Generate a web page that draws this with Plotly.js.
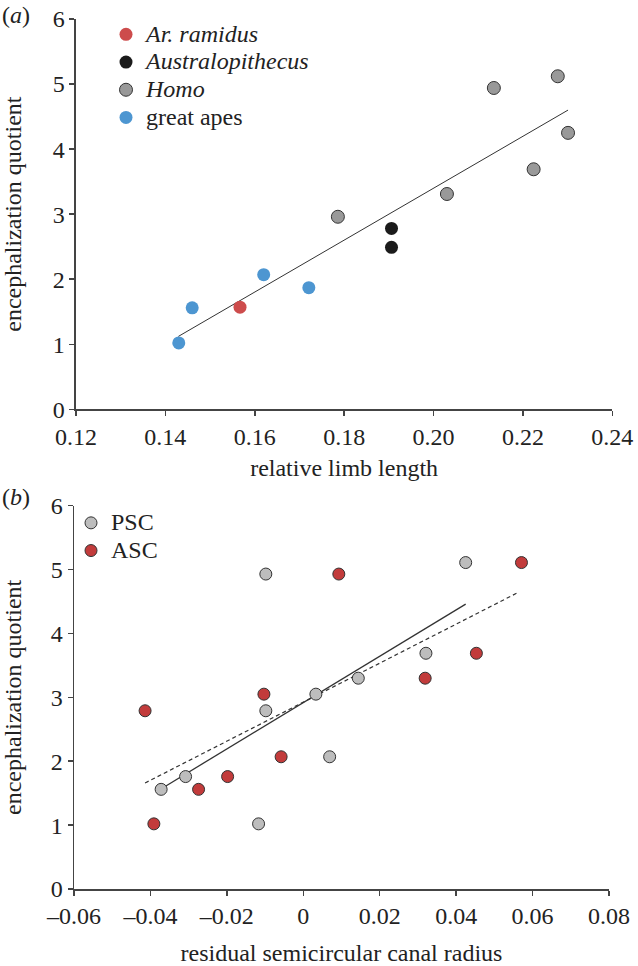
<!DOCTYPE html>
<html>
<head>
<meta charset="utf-8">
<script src="https://cdn.plot.ly/plotly-3.0.1.min.js"></script>
<style>
  html, body { margin: 0; padding: 0; background: #fff; }
  #chart { width: 638px; height: 966px; }
</style>
</head>
<body>
<div id="chart"></div>
<script>
// ---------- panel (a): relative limb length vs EQ ----------
const ramidusX = [0.1567];
const ramidusY = [1.57];
const australX = [0.1906, 0.1906];
const australY = [2.78, 2.49];
const homoX = [0.1786, 0.2030, 0.2135, 0.2224, 0.2278, 0.2301];
const homoY = [2.96, 3.31, 4.94, 3.69, 5.12, 4.25];
const apesX = [0.1430, 0.1460, 0.1620, 0.1721];
const apesY = [1.02, 1.56, 2.07, 1.87];
const fitAX = [0.1429, 0.2301];
const fitAY = [1.12, 4.60];

// ---------- panel (b): residual canal radius vs EQ ----------
const pscX = [-0.0372, -0.0308, -0.0117, -0.0098, -0.0098, 0.0033, 0.0069, 0.0144, 0.0321, 0.0425];
const pscY = [1.56, 1.76, 1.02, 2.79, 4.93, 3.05, 2.07, 3.30, 3.69, 5.11];
const ascX = [-0.0414, -0.0391, -0.0274, -0.0198, -0.0103, -0.0058, 0.0093, 0.0319, 0.0453, 0.0571];
const ascY = [2.79, 1.02, 1.56, 1.76, 3.05, 2.07, 4.93, 3.30, 3.69, 5.11];
const fitPscX = [-0.0366, 0.0425];
const fitPscY = [1.59, 4.46];
const fitAscX = [-0.0414, 0.0565];
const fitAscY = [1.66, 4.65];

// ---------- ticks ----------
const yTicks = [0, 1, 2, 3, 4, 5, 6];
const xTicksA = [0.12, 0.14, 0.16, 0.18, 0.20, 0.22, 0.24];
const xTickTextA = ['0.12', '0.14', '0.16', '0.18', '0.20', '0.22', '0.24'];
const xTicksB = [-0.06, -0.04, -0.02, 0, 0.02, 0.04, 0.06, 0.08];
const xTickTextB = ['\u20130.06', '\u20130.04', '\u20130.02', '0', '0.02', '0.04', '0.06', '0.08'];

const FONT = 'Liberation Serif, Times New Roman, serif';
const AX = '#444';
const TXT = '#222';
const big = s => '<span style="font-size:24px">' + s + '</span>';

const traces = [
  { x: fitAX, y: fitAY, xaxis: 'x', yaxis: 'y', mode: 'lines', showlegend: false,
    line: { color: '#333', width: 1 }, hoverinfo: 'skip' },
  { x: ramidusX, y: ramidusY, xaxis: 'x', yaxis: 'y', mode: 'markers', name: big('<i>Ar. ramidus</i>'),
    marker: { size: 13, color: '#cd4c4c' }, legend: 'legend' },
  { x: australX, y: australY, xaxis: 'x', yaxis: 'y', mode: 'markers', name: big('<i>Australopithecus</i>'),
    marker: { size: 13, color: '#1b1b1b' }, legend: 'legend' },
  { x: homoX, y: homoY, xaxis: 'x', yaxis: 'y', mode: 'markers', name: big('<i>Homo</i>'),
    marker: { size: 13, color: '#999999', line: { color: '#333', width: 1 } }, legend: 'legend' },
  { x: apesX, y: apesY, xaxis: 'x', yaxis: 'y', mode: 'markers', name: big('great apes'),
    marker: { size: 13, color: '#4d96d1' }, legend: 'legend' },

  { x: fitPscX, y: fitPscY, xaxis: 'x2', yaxis: 'y2', mode: 'lines', showlegend: false,
    line: { color: '#333', width: 1.3 }, hoverinfo: 'skip' },
  { x: fitAscX, y: fitAscY, xaxis: 'x2', yaxis: 'y2', mode: 'lines', showlegend: false,
    line: { color: '#333', width: 1.2, dash: '4px,3px' }, hoverinfo: 'skip' },
  { x: pscX, y: pscY, xaxis: 'x2', yaxis: 'y2', mode: 'markers', name: big('PSC'),
    marker: { size: 12, color: '#bdbdbd', line: { color: '#333', width: 1 } }, legend: 'legend2' },
  { x: ascX, y: ascY, xaxis: 'x2', yaxis: 'y2', mode: 'markers', name: big('ASC'),
    marker: { size: 12, color: '#c23b3b', line: { color: '#333', width: 1 } }, legend: 'legend2' }
];

const axisCommon = {
  showline: true, linecolor: AX, linewidth: 1.5,
  ticks: 'outside', ticklen: 5, tickwidth: 1.5, tickcolor: AX,
  showgrid: false, zeroline: false,
  tickfont: { family: FONT, size: 24, color: TXT }
};
const titleFont = { family: FONT, size: 24, color: TXT };

const layout = {
  width: 638, height: 966,
  margin: { l: 0, r: 0, t: 0, b: 0 },
  paper_bgcolor: '#fff', plot_bgcolor: '#fff',
  xaxis: Object.assign({}, axisCommon, {
    domain: [0.1191, 0.9597], range: [0.12, 0.24], anchor: 'y',
    tickmode: 'array', tickvals: xTicksA, ticktext: xTickTextA,
    title: { text: 'relative limb length', font: titleFont, standoff: 10 }
  }),
  yaxis: Object.assign({}, axisCommon, {
    domain: [0.5763, 0.9803], range: [0, 6], anchor: 'x',
    tickmode: 'array', tickvals: yTicks,
    title: { text: 'encephalization quotient', font: titleFont }
  }),
  xaxis2: Object.assign({}, axisCommon, {
    domain: [0.1160, 0.9545], range: [-0.06, 0.08], anchor: 'y2',
    tickmode: 'array', tickvals: xTicksB, ticktext: xTickTextB,
    title: { text: 'residual semicircular canal radius', font: titleFont }
  }),
  yaxis2: Object.assign({}, axisCommon, {
    domain: [0.0797, 0.4765], range: [0, 6], anchor: 'x2',
    tickmode: 'array', tickvals: yTicks,
    title: { text: 'encephalization quotient', font: titleFont }
  }),
  legend: {
    x: 106 / 638, y: 1 - 15.5 / 966, xanchor: 'left', yanchor: 'top',
    bgcolor: 'rgba(0,0,0,0)', borderwidth: 0, tracegroupgap: 0,
    font: { family: FONT, size: 19, color: TXT }
  },
  legend2: {
    x: 71 / 638, y: 1 - 504 / 966, xanchor: 'left', yanchor: 'top',
    bgcolor: 'rgba(0,0,0,0)', borderwidth: 0, tracegroupgap: 0,
    font: { family: FONT, size: 19, color: TXT }
  },
  annotations: [
    { text: '(<i>a</i>)', xref: 'paper', yref: 'paper', x: 0, y: 1 - 15 / 966,
      xanchor: 'left', yanchor: 'middle', showarrow: false, font: { family: FONT, size: 24, color: TXT } },
    { text: '(<i>b</i>)', xref: 'paper', yref: 'paper', x: 0, y: 1 - 497 / 966,
      xanchor: 'left', yanchor: 'middle', showarrow: false, font: { family: FONT, size: 24, color: TXT } }
  ],
  showlegend: true
};

Plotly.newPlot('chart', traces, layout, { staticPlot: true, displayModeBar: false });
</script>
</body>
</html>
